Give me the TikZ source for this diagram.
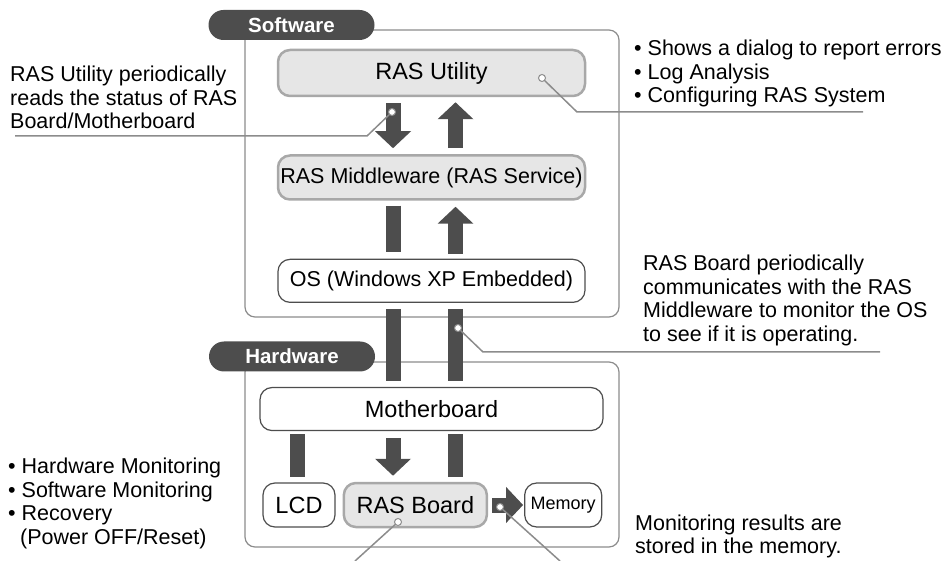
\documentclass[tikz,border=0pt]{standalone}
\usepackage{fontspec}
\setmainfont{Liberation Sans}
\usepackage{xcolor}
\definecolor{grisfonce}{HTML}{4D4D4D}
\definecolor{grisclair}{HTML}{E6E6E6}
\definecolor{grisbord}{HTML}{A8A8A8}
\definecolor{grisligne}{HTML}{8C8C8C}
\usepackage{tikz}
\usetikzlibrary{positioning,arrows.meta,calc}

\begin{document}
\begin{tikzpicture}[x=1pt,y=-1pt,
  cadre/.style={draw=grisligne,line width=1.2pt,rounded corners=10pt},
  onglet/.style={fill=grisfonce,text=white,rounded corners=15pt,minimum width=166pt,minimum height=30pt,inner sep=0pt,font=\fontsize{20.5}{22}\selectfont\bfseries},
  noeudgris/.style={draw=grisbord,fill=grisclair,line width=2.5pt,rounded corners=12pt,inner sep=0pt,minimum height=44pt,font=\fontsize{23.5}{25}\selectfont},
  noeudblanc/.style={draw=grisfonce,fill=white,line width=1.2pt,rounded corners=12pt,inner sep=0pt,minimum height=44pt,font=\fontsize{23.5}{25}\selectfont},
  fl/.style={grisfonce,line width=15pt,-{Triangle[width=35pt,length=17pt]}},
  barre/.style={grisfonce,line width=15pt},
  note/.style={align=left,anchor=north west,inner sep=0pt,font=\fontsize{21.5}{23.5}\selectfont},
  rappel/.style={grisligne,line width=1.5pt},
  pastille/.style={circle,draw=grisligne,fill=white,line width=1pt,inner sep=0pt,minimum size=7pt}
]
\useasboundingbox (0,0) rectangle (943,561);

% cadres et onglets
\draw[cadre] (245,30) rectangle (619,317);
\draw[cadre] (245,362) rectangle (619,547);
\node[onglet] (logiciel) at (291.5,25) {Software};
\node[onglet] (materiel) at (292,356.5) {Hardware};

% colonnes des fleches
\coordinate (colg) at (393,0);
\coordinate (cold) at (455.5,0);
\coordinate (collcd) at (297,0);

% noeuds
\node[noeudgris,minimum width=307pt,minimum height=46pt] (util) at (431.5,73) {RAS Utility};
\node[noeudgris,minimum width=307pt,below=57pt of util,font=\fontsize{21.5}{23}\selectfont] (mw) {RAS Middleware (RAS Service)};
\node[noeudblanc,minimum width=307pt,minimum height=43pt,below=58pt of mw,font=\fontsize{21.5}{23}\selectfont] (os) {OS (Windows XP Embedded)};
\node[noeudblanc,minimum width=343pt,minimum height=43pt,below=84pt of os] (mb) {Motherboard};
\node[noeudblanc,minimum width=72pt] (lcd) at (299,505) {LCD};
\node[noeudgris,minimum width=143pt,right=7pt of lcd] (board) {RAS Board};
\node[noeudblanc,minimum width=77pt,right=36pt of board,font=\fontsize{18}{20}\selectfont] (mem) {Memory};

% fleches pleines
\draw[fl,shorten <=6pt,shorten >=6pt] (util.south -| colg) -- (mw.north -| colg);
\draw[fl,shorten <=6pt,shorten >=5pt] (mw.north -| cold) -- (util.south -| cold);
\draw[barre,shorten <=5pt,shorten >=7pt] (mw.south -| colg) -- (os.north -| colg);
\draw[fl,shorten <=5pt,shorten >=6pt] (os.north -| cold) -- (mw.south -| cold);
\draw[barre,shorten <=6pt,shorten >=6pt] (os.south -| colg) -- (mb.north -| colg);
\draw[barre,shorten <=6pt,shorten >=6pt] (os.south -| cold) -- (mb.north -| cold);
\draw[barre,shorten <=3pt,shorten >=5pt] (mb.south -| collcd) -- (lcd.north -| collcd);
\draw[fl,shorten <=7pt,shorten >=6pt] (mb.south -| colg) -- (board.north -| colg);
\draw[barre,shorten <=3pt,shorten >=5pt] (mb.south -| cold) -- (board.north -| cold);
\draw[fl,shorten <=4pt,shorten >=1pt] (board.east) -- (mem.west);

% textes
\node[note] (txtutil) at (10,66) {RAS Utility periodically\\reads the status of RAS\\Board/Motherboard};
\node[note] (txtfonc) at (634,40) {• Shows a dialog to report errors\\• Log Analysis\\• Configuring RAS System};
\node[note] (txtcomm) at (643,255) {RAS Board periodically\\communicates with the RAS\\Middleware to monitor the OS\\to see if it is operating.};
\node[note] (txtsurv) at (8,458) {• Hardware Monitoring\\• Software Monitoring\\• Recovery\\\hspace*{12pt}(Power OFF/Reset)};
\node[note,font=\fontsize{21.5}{22.5}\selectfont] (txtmem) at (635,515) {Monitoring results are\\stored in the memory.};

% rappels
\coordinate (c1) at (577,112);
\coordinate (c1f) at (863,112);
\coordinate (c2) at (367,136);
\coordinate (c2f) at (15,136);
\coordinate (c3) at (483,352);
\coordinate (c3f) at (880,352);
\coordinate (c4) at (355,561);
\coordinate (c5) at (560,561);
\node[pastille] (p1) at (542,78) {};
\node[pastille] (p2) at (392,112) {};
\node[pastille] (p3) at (458,328) {};
\node[pastille] (p4) at (398,522) {};
\node[pastille] (p5) at (500,507) {};
\draw[rappel] (p1) -- (c1) -- (c1f);
\draw[rappel] (p2) -- (c2) -- (c2f);
\draw[rappel] (p3) -- (c3) -- (c3f);
\draw[rappel] (p4) -- (c4);
\draw[rappel] (p5) -- (c5);
\end{tikzpicture}
\end{document}
